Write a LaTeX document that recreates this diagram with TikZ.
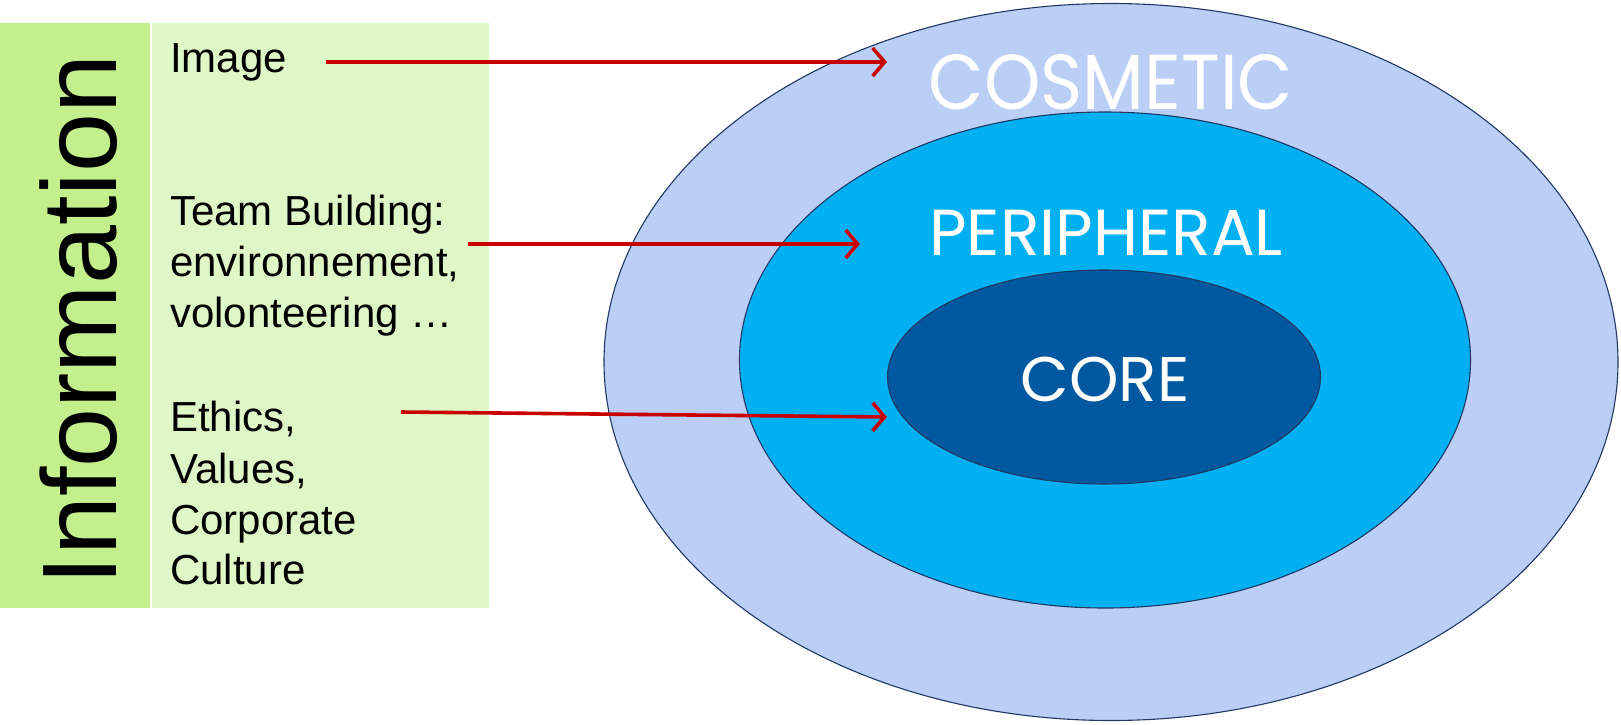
\documentclass[tikz,border=0pt]{standalone}
\usepackage{fontspec}
\setmainfont{Liberation Sans}
\newfontfamily\gothic{Poppins}
\usetikzlibrary{arrows.meta,shapes.geometric}
\definecolor{darkgreen}{RGB}{195,240,140}
\definecolor{lightgreen}{RGB}{223,247,199}
\definecolor{outerblue}{RGB}{187,206,245}
\definecolor{midblue}{RGB}{0,176,240}
\definecolor{innerblue}{RGB}{0,88,160}
\definecolor{rimnavy}{RGB}{31,56,100}
\definecolor{arrowred}{RGB}{200,0,0}
\begin{document}
\begin{tikzpicture}[x=1pt,y=-1pt,
  txt/.style={anchor=base west,inner sep=0pt,font=\fontsize{42}{50}\selectfont},
  ring/.style={draw=rimnavy,line width=1.1pt,ellipse,inner sep=0pt},
  lbl/.style={anchor=base,inner sep=0pt,text=white},
  redarrow/.style={draw=arrowred,line width=3.6pt,-{Straight Barb[length=12pt,width=28pt]}}]
\useasboundingbox (0,0) rectangle (1621,724);
\fill[darkgreen] (0,23) rectangle (150,608);
\fill[lightgreen] (152,23) rectangle (489,608);
\node[rotate=90,anchor=base,inner sep=0pt,font=\fontsize{106}{106}\selectfont] (info) at (116,320) {Information};
\node[txt] (img) at (170,72) {Image};
\node[txt] (team1) at (170,225) {Team Building:};
\node[txt] (team2) at (170,276) {environnement,};
\node[txt] (team3) at (170,327) {volonteering \dots};
\node[txt] (eth1) at (170,431) {Ethics,};
\node[txt] (eth2) at (170,483) {Values,};
\node[txt] (eth3) at (170,534) {Corporate};
\node[txt] (eth4) at (170,584) {Culture};
\node[ring,fill=outerblue,minimum width=1014pt,minimum height=717pt] (outer) at (1111,362) {};
\node[ring,fill=midblue,minimum width=731pt,minimum height=496pt] (mid) at (1105,360) {};
\node[ring,fill=innerblue,minimum width=433pt,minimum height=214pt] (inner) at (1104,377) {};
\node[lbl,xscale=0.92,font=\gothic\fontsize{78}{78}\selectfont] (cos) at (1111,109) {COSMETIC};
\node[lbl,font=\gothic\fontsize{65}{65}\selectfont] (per) at (1106,255) {PERIPHERAL};
\node[lbl,font=\gothic\fontsize{63}{63}\selectfont] (core) at (1105,401) {CORE};
\coordinate (s1) at (326,62);
\coordinate (e1) at (887,62);
\coordinate (s2) at (468,244);
\coordinate (e2) at (860,244);
\coordinate (s3) at (401,412);
\coordinate (e3) at (887,417);
\draw[redarrow] (s1) -- (e1);
\draw[redarrow] (s2) -- (e2);
\draw[redarrow] (s3) -- (e3);
\end{tikzpicture}
\end{document}
